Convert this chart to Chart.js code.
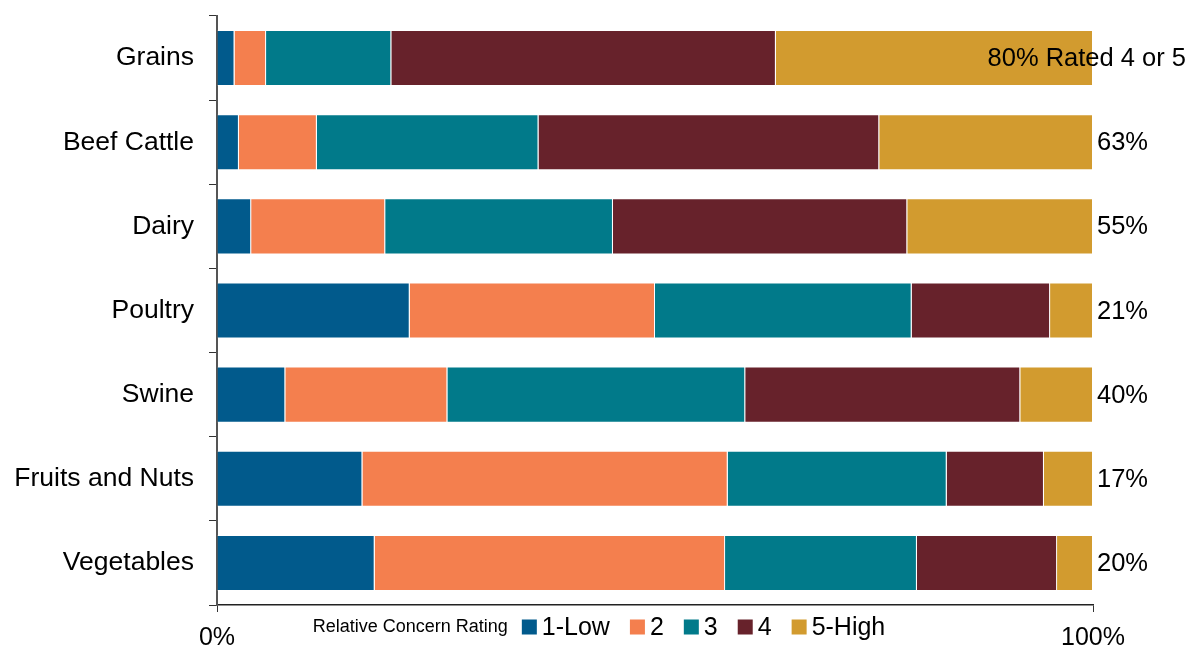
<!DOCTYPE html>
<html lang="en">
<head>
  <meta charset="UTF-8">
  <title>Relative Concern Rating by Commodity</title>
  <style>
    * {
      margin: 0;
      padding: 0;
      box-sizing: border-box;
    }

    body {
      background-color: #fff;
    }

    #wrap {
      width: 1188px;
      height: 650px;
      position: relative;
    }
  </style>
  <script src="https://cdn.jsdelivr.net/npm/chart.js"></script>
</head>
<body>
  <div id="wrap">
    <canvas id="concernChart"></canvas>
  </div>

  <script>
    const commodities = ["Grains", "Beef Cattle", "Dairy", "Poultry", "Swine", "Fruits and Nuts", "Vegetables"];

    // share of responses (%) for each rating, in the same order as commodities
    const rating1 = [2.0, 2.5, 3.9, 22.0, 7.8, 16.6, 18.0];
    const rating2 = [3.6, 8.9, 15.3, 28.0, 18.5, 41.7, 40.0];
    const rating3 = [14.3, 25.3, 26.0, 29.3, 34.0, 25.0, 21.9];
    const rating4 = [43.9, 38.9, 33.6, 15.8, 31.4, 11.1, 16.0];
    const rating5 = [36.2, 24.4, 21.2, 4.9, 8.3, 5.6, 4.1];

    const ratingNames = ["1-Low", "2", "3", "4", "5-High"];
    const ratingColors = ["#015a8c", "#f47f4e", "#017a8a", "#67222b", "#d29b2f"];
    const xTicks = [0, 100];

    const legendTitle = "Relative Concern Rating";
    const firstLabelSuffix = " Rated 4 or 5";

    const FONT = "Arial, 'Liberation Sans', sans-serif";
    Chart.defaults.font.family = FONT;
    Chart.defaults.color = "#000";

    const series = [rating1, rating2, rating3, rating4, rating5];

    // percent of 4 + 5 ratings, printed at the end of each bar
    const highShare = commodities.map((_, i) => Math.round(rating4[i] + rating5[i]));

    const endLabels = {
      id: "endLabels",
      afterDatasetsDraw(chart) {
        const ctx = chart.ctx;
        const xs = chart.scales.x;
        const ys = chart.scales.y;
        ctx.save();
        ctx.font = "25.5px " + FONT;
        ctx.fillStyle = "#000";
        ctx.textBaseline = "middle";
        ctx.textAlign = "left";
        highShare.forEach((v, i) => {
          let text = v + "%" + (i === 0 ? firstLabelSuffix : "");
          let w = ctx.measureText(text).width;
          let x = xs.getPixelForValue(100) + 4;
          if (x + w > chart.width - 2) x = chart.width - 2 - w;
          ctx.fillText(text, x, ys.getPixelForValue(i) + 1);
        });
        ctx.restore();
      }
    };

    // legend with a small title in front, sitting under the x axis
    const bottomLegend = {
      id: "bottomLegend",
      afterDraw(chart) {
        const ctx = chart.ctx;
        const y = 627;
        const box = 15;
        ctx.save();
        ctx.textBaseline = "middle";
        ctx.textAlign = "left";

        ctx.font = "18px " + FONT;
        const titleW = ctx.measureText(legendTitle).width;
        ctx.font = "25px " + FONT;
        let total = titleW + 14;
        ratingNames.forEach((n, i) => {
          total += box + 5 + ctx.measureText(n).width;
          if (i < ratingNames.length - 1) total += 20;
        });

        let x = chart.width / 2 + 5 - total / 2;
        ctx.font = "18px " + FONT;
        ctx.fillStyle = "#000";
        ctx.fillText(legendTitle, x, y);
        x += titleW + 14;

        ctx.font = "25px " + FONT;
        ratingNames.forEach((n, i) => {
          ctx.fillStyle = ratingColors[i];
          ctx.fillRect(x, y - box / 2, box, box);
          x += box + 5;
          ctx.fillStyle = "#000";
          ctx.fillText(n, x, y + 1);
          x += ctx.measureText(n).width + 20;
        });
        ctx.restore();
      }
    };

    const ctx = document.getElementById("concernChart").getContext("2d");
    new Chart(ctx, {
      type: "bar",
      data: {
        labels: commodities,
        datasets: series.map((data, i) => ({
          label: ratingNames[i],
          data: data,
          backgroundColor: ratingColors[i],
          borderColor: "rgba(255, 255, 255, 0.55)",
          borderWidth: 1,
          barPercentage: 0.666,
          categoryPercentage: 1
        }))
      },
      options: {
        indexAxis: "y",
        responsive: true,
        maintainAspectRatio: false,
        animation: false,
        devicePixelRatio: 1,
        layout: {
          padding: { left: 0, right: 95, top: 16, bottom: 0 }
        },
        plugins: {
          legend: { display: false },
          tooltip: { enabled: false }
        },
        scales: {
          x: {
            stacked: true,
            min: 0,
            max: 100,
            afterBuildTicks: (scale) => {
              scale.ticks = xTicks.map(v => ({ value: v }));
            },
            ticks: {
              font: { size: 25 },
              padding: 11,
              callback: (v) => v + "%"
            },
            grid: {
              drawOnChartArea: false,
              tickLength: 7,
              color: "#333"
            },
            border: { color: "#222", width: 1.5 },
            afterFit: (scale) => { scale.height = 45; }
          },
          y: {
            stacked: true,
            ticks: {
              font: { size: 26.5 },
              padding: 15
            },
            grid: {
              offset: true,
              drawOnChartArea: false,
              tickLength: 8,
              color: "#333"
            },
            border: { color: "#555", width: 2 },
            afterFit: (scale) => {
              scale.width = 217;
              // labels sit mid-band, so no extra room above or below
              scale.paddingTop = 0;
              scale.paddingBottom = 0;
            }
          }
        }
      },
      plugins: [endLabels, bottomLegend]
    });
  </script>
</body>
</html>
